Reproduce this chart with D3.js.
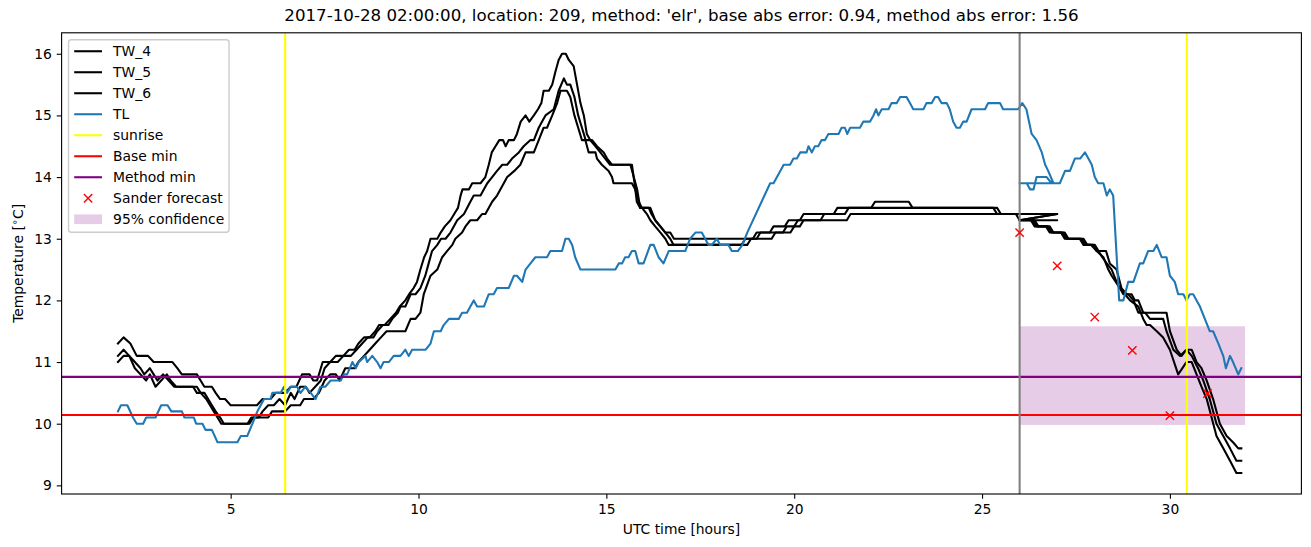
<!DOCTYPE html>
<html>
<head>
<meta charset="utf-8">
<script src="https://cdn.jsdelivr.net/npm/d3@7"></script>
<style>
  html, body { margin: 0; padding: 0; background: #fff; }
  svg { display: block; font-family: "DejaVu Sans", sans-serif; }
</style>
</head>
<body>
<svg id="chart" width="1311" height="547"></svg>
<script>
// ---------------- DATA (hours UTC, temperature °C) ----------------
const titleText = "2017-10-28 02:00:00, location: 209, method: 'elr', base abs error: 0.94, method abs error: 1.56";
const xTicks = [5, 10, 15, 20, 25, 30];
const yTicks = [9, 10, 11, 12, 13, 14, 15, 16];
const seriesNames = ["TW_4", "TW_5", "TW_6", "TL"];

const tw4 = [
  [2.0,11.3],[2.15,11.4],[2.33,11.3],[2.5,11.1],[2.8,11.1],[2.95,11.0],[3.45,11.0],[3.58,10.9],[3.7,10.8],[4.1,10.8],[4.2,10.7],[4.3,10.6],[4.5,10.6],[4.6,10.5],[4.72,10.4],[4.85,10.4],[5.0,10.3],[5.7,10.3],[5.85,10.4],[6.06,10.4],[6.2,10.5],[6.45,10.5],[6.6,10.6],[6.75,10.6],[6.9,10.8],[7.1,10.8],[7.2,10.7],[7.3,10.7],[7.45,11.0],[7.65,11.0],[7.8,11.1],[8.0,11.1],[8.15,11.2],[8.3,11.2],[8.4,11.3],[8.55,11.4],[8.7,11.4],[8.85,11.5],[8.95,11.6],[9.1,11.6],[9.25,11.7],[9.4,11.8],[9.5,11.9],[9.65,12.0],[9.75,12.1],[9.87,12.2],[9.96,12.3],[10.05,12.5],[10.15,12.7],[10.23,12.8],[10.32,13.0],[10.5,13.0],[10.59,13.1],[10.7,13.2],[10.85,13.3],[10.95,13.4],[11.05,13.5],[11.12,13.7],[11.17,13.8],[11.34,13.8],[11.43,13.9],[11.65,13.9],[11.78,14.0],[11.87,14.2],[11.95,14.4],[12.05,14.5],[12.15,14.6],[12.25,14.6],[12.32,14.5],[12.4,14.6],[12.54,14.6],[12.62,14.7],[12.72,14.9],[12.85,15.0],[12.95,14.9],[13.07,15.0],[13.18,15.1],[13.27,15.2],[13.33,15.4],[13.47,15.4],[13.56,15.5],[13.64,15.7],[13.73,15.9],[13.82,16.0],[13.92,16.0],[14.0,15.9],[14.13,15.8],[14.22,15.5],[14.31,15.2],[14.4,15.0],[14.48,14.7],[14.57,14.6],[14.71,14.5],[14.84,14.4],[14.97,14.3],[15.1,14.2],[15.64,14.2],[15.73,14.0],[15.82,13.8],[15.9,13.5],[16.13,13.5],[16.2,13.4],[16.3,13.3],[16.43,13.2],[16.57,13.1],[16.7,13.1],[16.8,13.0],[18.9,13.0],[19.0,13.1],[19.35,13.1],[19.45,13.2],[19.75,13.2],[19.85,13.3],[20.15,13.3],[20.25,13.4],[21.05,13.4],[21.15,13.5],[22.05,13.5],[22.15,13.6],[23.05,13.6],[23.15,13.5],[25.4,13.5],[25.5,13.4],[27.0,13.4],
  [26.0,13.3],[26.35,13.3],[26.45,13.2],[26.75,13.2],[26.85,13.1],[27.15,13.1],[27.25,13.0],[27.65,13.0],[27.75,12.9],[27.95,12.9],[28.05,12.8],[28.3,12.8],[28.4,12.6],[28.58,12.5],[28.71,12.2],[28.85,12.1],[28.98,12.1],[29.07,12.0],[29.16,12.0],[29.29,11.8],[29.91,11.8],[30.0,11.5],[30.18,11.2],[30.31,11.1],[30.44,11.2],[30.58,11.2],[30.71,11.0],[30.84,10.9],[30.98,10.7],[31.15,10.4],[31.33,10.0],[31.51,9.8],[31.68,9.7],[31.82,9.6],[31.9,9.6]
];
const tw5 = [
  [2.0,11.1],[2.15,11.2],[2.3,11.1],[2.45,11.0],[2.6,10.9],[2.7,10.8],[2.85,10.9],[2.95,10.8],[3.05,10.7],[3.2,10.8],[3.35,10.7],[3.5,10.6],[4.1,10.6],[4.2,10.5],[4.35,10.4],[4.45,10.3],[4.55,10.2],[4.65,10.1],[4.75,10.0],[5.5,10.0],[5.6,10.1],[5.75,10.1],[5.85,10.2],[6.0,10.3],[6.15,10.3],[6.3,10.4],[6.45,10.3],[6.6,10.5],[6.7,10.4],[6.85,10.6],[7.0,10.6],[7.1,10.5],[7.25,10.6],[7.4,10.7],[7.5,10.9],[7.65,11.0],[7.85,11.0],[8.0,11.1],[8.2,11.1],[8.35,11.2],[8.5,11.3],[8.65,11.4],[8.8,11.4],[8.9,11.5],[9.05,11.6],[9.2,11.6],[9.3,11.7],[9.45,11.8],[9.52,11.9],[9.65,11.9],[9.79,12.1],[9.92,12.1],[10.05,12.2],[10.18,12.4],[10.27,12.6],[10.36,12.8],[10.5,12.9],[10.6,13.0],[10.72,13.0],[10.85,13.1],[11.03,13.3],[11.21,13.4],[11.38,13.6],[11.47,13.7],[11.65,13.7],[11.83,13.9],[11.96,14.0],[12.09,14.1],[12.23,14.2],[12.36,14.2],[12.49,14.3],[12.67,14.4],[12.8,14.5],[12.98,14.6],[13.07,14.6],[13.2,14.8],[13.29,14.9],[13.38,15.0],[13.6,15.1],[13.73,15.4],[13.87,15.6],[13.95,15.5],[14.04,15.5],[14.15,15.3],[14.25,15.0],[14.35,14.8],[14.45,14.6],[14.62,14.6],[14.75,14.5],[14.93,14.4],[15.02,14.3],[15.15,14.2],[15.68,14.2],[15.75,13.9],[15.81,13.6],[15.9,13.5],[16.17,13.5],[16.3,13.3],[16.44,13.2],[16.57,13.1],[16.7,13.0],[16.79,12.9],[18.6,12.9],[18.7,13.0],[19.0,13.0],[19.1,13.1],[19.7,13.1],[19.8,13.2],[20.0,13.2],[20.1,13.3],[20.7,13.3],[20.8,13.4],[21.35,13.4],[21.45,13.5],[25.3,13.5],[25.4,13.4],[27.0,13.4],
  [26.0,13.3],[26.4,13.3],[26.5,13.2],[26.8,13.2],[26.9,13.1],[27.2,13.1],[27.3,13.0],[27.7,13.0],[27.8,12.9],[28.0,12.9],[28.1,12.8],[28.2,12.7],[28.32,12.6],[28.45,12.5],[28.58,12.3],[28.76,12.1],[28.89,12.1],[29.03,12.0],[29.16,11.8],[29.34,11.8],[29.47,11.7],[29.82,11.7],[29.91,11.5],[30.09,11.2],[30.27,11.1],[30.44,11.2],[30.58,11.1],[30.75,10.9],[30.89,10.7],[31.06,10.4],[31.24,10.0],[31.42,9.8],[31.6,9.6],[31.77,9.4],[31.9,9.4]
];
const tw6 = [
  [2.0,11.0],[2.15,11.1],[2.3,11.1],[2.45,10.9],[2.6,10.8],[2.75,10.7],[2.85,10.8],[3.0,10.6],[3.15,10.7],[3.3,10.8],[3.4,10.7],[3.55,10.6],[4.0,10.6],[4.1,10.5],[4.3,10.5],[4.4,10.4],[4.5,10.3],[4.6,10.2],[4.72,10.1],[4.82,10.0],[5.45,10.0],[5.55,10.1],[6.0,10.1],[6.1,10.2],[6.45,10.2],[6.6,10.3],[6.85,10.3],[6.95,10.4],[7.2,10.4],[7.35,10.5],[7.5,10.7],[7.65,10.8],[7.8,10.8],[7.9,10.7],[8.05,10.9],[8.3,10.9],[8.4,11.0],[8.55,11.1],[8.7,11.2],[8.85,11.3],[9.0,11.4],[9.15,11.5],[9.65,11.5],[9.79,11.7],[9.92,11.7],[10.05,11.8],[10.14,12.1],[10.32,12.4],[10.5,12.5],[10.63,12.7],[10.76,12.8],[10.9,12.9],[10.98,13.0],[11.16,13.1],[11.25,13.2],[11.38,13.3],[11.56,13.3],[11.69,13.4],[11.78,13.4],[11.96,13.6],[12.09,13.7],[12.27,13.9],[12.36,14.0],[12.55,14.1],[12.71,14.2],[12.85,14.4],[13.07,14.4],[13.2,14.6],[13.33,14.8],[13.42,14.8],[13.56,15.0],[13.69,15.2],[13.78,15.4],[13.95,15.4],[14.04,15.3],[14.15,15.0],[14.25,14.8],[14.35,14.6],[14.44,14.6],[14.53,14.4],[14.71,14.4],[14.75,14.3],[14.88,14.2],[15.06,14.1],[15.15,14.0],[15.19,13.9],[15.68,13.9],[15.77,13.8],[15.86,13.6],[15.95,13.5],[16.08,13.4],[16.17,13.3],[16.3,13.2],[16.44,13.1],[16.57,13.0],[16.66,12.9],[18.75,12.9],[18.85,13.0],[19.4,13.0],[19.5,13.1],[19.9,13.1],[20.0,13.2],[20.15,13.2],[20.25,13.3],[21.4,13.3],[21.5,13.4],[25.9,13.4],[26.0,13.3],[27.0,13.3],
  [26.0,13.3],[26.3,13.3],[26.4,13.2],[26.7,13.2],[26.8,13.1],[27.1,13.1],[27.2,13.0],[27.6,13.0],[27.7,12.9],[27.9,12.9],[28.05,12.8],[28.23,12.7],[28.36,12.5],[28.45,12.4],[28.67,12.2],[28.8,12.1],[28.94,12.0],[29.16,11.9],[29.29,11.7],[29.38,11.6],[29.47,11.6],[29.65,11.5],[29.82,11.4],[30.0,11.2],[30.22,10.8],[30.44,11.0],[30.58,11.0],[30.71,10.8],[30.84,10.6],[30.98,10.4],[31.11,10.1],[31.24,9.8],[31.42,9.6],[31.6,9.4],[31.77,9.2],[31.9,9.2]
];
const tl = [
  [2.0,10.2],[2.08,10.3],[2.25,10.3],[2.4,10.1],[2.5,10.0],[2.67,10.0],[2.75,10.1],[3.0,10.1],[3.15,10.3],[3.32,10.3],[3.42,10.2],[3.7,10.2],[3.77,10.1],[4.02,10.1],[4.08,10.0],[4.25,10.0],[4.33,9.9],[4.5,9.9],[4.65,9.7],[5.18,9.7],[5.27,9.8],[5.44,9.8],[5.58,10.0],[5.71,10.2],[5.8,10.3],[5.89,10.4],[6.06,10.4],[6.11,10.5],[6.33,10.5],[6.42,10.6],[6.5,10.5],[6.6,10.6],[6.77,10.6],[6.86,10.5],[6.99,10.6],[7.13,10.5],[7.26,10.4],[7.39,10.6],[7.52,10.6],[7.66,10.7],[7.93,10.7],[8.01,10.8],[8.1,10.8],[8.24,11.0],[8.33,10.9],[8.41,11.0],[8.59,11.1],[8.63,11.0],[8.77,11.1],[8.9,11.0],[8.99,10.9],[9.07,11.0],[9.21,11.0],[9.34,11.1],[9.52,11.1],[9.65,11.2],[9.74,11.1],[9.83,11.2],[10.19,11.2],[10.32,11.3],[10.41,11.5],[10.59,11.5],[10.67,11.6],[10.81,11.7],[11.07,11.7],[11.16,11.8],[11.29,11.8],[11.38,11.9],[11.47,12.0],[11.56,11.9],[11.74,11.9],[11.87,12.1],[12.0,12.1],[12.09,12.2],[12.4,12.2],[12.54,12.4],[12.62,12.4],[12.76,12.3],[12.85,12.5],[12.98,12.6],[13.11,12.7],[13.42,12.7],[13.51,12.8],[13.82,12.8],[13.91,13.0],[14.0,13.0],[14.09,12.9],[14.17,12.7],[14.31,12.5],[15.24,12.5],[15.33,12.6],[15.42,12.6],[15.5,12.7],[15.59,12.7],[15.68,12.8],[15.77,12.8],[15.86,12.6],[15.99,12.6],[16.17,12.9],[16.26,12.9],[16.39,12.7],[16.52,12.6],[16.66,12.8],[17.1,12.8],[17.23,13.0],[17.37,13.1],[17.54,13.1],[17.72,12.9],[17.81,12.9],[17.94,13.0],[18.03,12.9],[18.25,12.9],[18.34,12.8],[18.5,12.8],[18.62,12.9],[18.75,13.1],[19.36,13.9],[19.45,13.9],[19.72,14.2],[19.89,14.2],[19.98,14.3],[20.07,14.3],[20.16,14.4],[20.33,14.4],[20.38,14.5],[20.47,14.4],[20.55,14.5],[20.64,14.5],[20.73,14.6],[20.82,14.6],[20.91,14.7],[21.18,14.7],[21.26,14.8],[21.35,14.8],[21.41,14.7],[21.49,14.8],[21.75,14.8],[21.84,14.9],[22.02,14.9],[22.11,15.0],[22.18,15.1],[22.24,15.0],[22.33,15.1],[22.51,15.1],[22.59,15.2],[22.73,15.2],[22.82,15.3],[22.99,15.3],[23.08,15.2],[23.17,15.1],[23.44,15.1],[23.52,15.2],[23.66,15.2],[23.75,15.3],[23.83,15.3],[23.92,15.2],[24.06,15.2],[24.14,15.1],[24.23,14.9],[24.32,14.8],[24.41,14.8],[24.5,14.9],[24.59,14.9],[24.72,15.1],[25.08,15.1],[25.16,15.2],[25.48,15.2],[25.56,15.1],[25.96,15.1],[26.07,15.2],[26.18,15.1],[26.32,14.7],[26.45,14.6],[26.59,14.4],[26.68,14.2],[26.76,14.1],[26.9,13.9],[27.0,13.9],
  [26.0,13.9],[26.19,13.9],[26.28,13.8],[26.37,13.8],[26.45,14.0],[26.72,14.0],[26.85,13.9],[27.07,13.9],[27.21,14.1],[27.34,14.1],[27.47,14.3],[27.61,14.3],[27.74,14.4],[27.83,14.3],[27.92,14.2],[28.0,14.0],[28.09,13.9],[28.23,13.9],[28.32,13.7],[28.4,13.8],[28.49,13.7],[28.65,12.0],[28.76,12.0],[28.89,12.3],[29.03,12.3],[29.2,12.6],[29.29,12.6],[29.42,12.8],[29.56,12.8],[29.65,12.9],[29.78,12.7],[29.91,12.7],[30.0,12.4],[30.13,12.3],[30.22,12.1],[30.36,12.1],[30.44,12.0],[30.53,12.1],[30.62,12.1],[30.71,12.0],[30.8,11.9],[30.93,11.7],[31.06,11.5],[31.15,11.5],[31.29,11.3],[31.42,11.1],[31.49,10.9],[31.6,11.1],[31.68,11.0],[31.82,10.8],[31.9,10.9]
];
const sunriseHours = [6.45, 30.45];
const forecastStart = 26.0;
const baseMin = 10.14;
const methodMin = 10.76;
const sanderHours = [26, 27, 28, 29, 30, 31];
const sanderTemps = [13.10, 12.56, 11.73, 11.19, 10.13, 10.49];
const confHours = [26, 32];
const confLow = 9.98;
const confHigh = 11.58;
const legendLabels = ["TW_4", "TW_5", "TW_6", "TL", "sunrise", "Base min", "Method min", "Sander forecast", "95% confidence"];

// ---------------- LAYOUT ----------------
const svg = d3.select("#chart");
const W = 1311, H = 547;
const L = 61.6, R = 1301.4, T = 32.8, B = 494;
const pt = 100 / 72;
const fs = 10 * pt;   // 13.89px

const x = d3.scaleLinear().domain([0.5, 33.5]).range([L, R]);
const y = d3.scaleLinear().domain([8.86, 16.34]).range([B, T]);

svg.append("rect").attr("width", W).attr("height", H).attr("fill", "#fff");

const defs = svg.append("defs");
defs.append("clipPath").attr("id", "clip").append("rect")
  .attr("x", L).attr("y", T).attr("width", R - L).attr("height", B - T);

const plot = svg.append("g").attr("clip-path", "url(#clip)");

// confidence band (drawn beneath)
plot.append("rect")
  .attr("x", x(confHours[0])).attr("width", x(confHours[1]) - x(confHours[0]))
  .attr("y", y(confHigh)).attr("height", y(confLow) - y(confHigh))
  .attr("fill", "#800080").attr("fill-opacity", 0.2);

const line = d3.line().x(d => x(d[0])).y(d => y(d[1]));
const lw = 1.5 * pt;
[tw4, tw5, tw6].forEach(s => {
  plot.append("path").datum(s).attr("d", line)
    .attr("fill", "none").attr("stroke", "#000").attr("stroke-width", lw)
    .attr("stroke-linejoin", "round").attr("stroke-linecap", "square");
});
plot.append("path").datum(tl).attr("d", line)
  .attr("fill", "none").attr("stroke", "#1f77b4").attr("stroke-width", lw)
  .attr("stroke-linejoin", "round").attr("stroke-linecap", "square");

// sunrise lines
sunriseHours.forEach(h => {
  plot.append("line").attr("x1", x(h)).attr("x2", x(h)).attr("y1", T).attr("y2", B)
    .attr("stroke", "#ffff00").attr("stroke-width", lw);
});
// base and method min
plot.append("line").attr("x1", L).attr("x2", R).attr("y1", y(baseMin)).attr("y2", y(baseMin))
  .attr("stroke", "#ff0000").attr("stroke-width", lw);
plot.append("line").attr("x1", L).attr("x2", R).attr("y1", y(methodMin)).attr("y2", y(methodMin))
  .attr("stroke", "#800080").attr("stroke-width", lw);
// forecast start
plot.append("line").attr("x1", x(forecastStart)).attr("x2", x(forecastStart)).attr("y1", T).attr("y2", B)
  .attr("stroke", "#808080").attr("stroke-width", lw);

// Sander forecast markers
const ms = 3 * pt;
const xMark = `M${-ms},${-ms}L${ms},${ms}M${-ms},${ms}L${ms},${-ms}`;
sanderHours.forEach((h, i) => {
  plot.append("path").attr("d", xMark)
    .attr("transform", `translate(${x(h)},${y(sanderTemps[i])})`)
    .attr("stroke", "#ff0000").attr("stroke-width", 1 * pt).attr("fill", "none");
});

// ---------------- AXES ----------------
const tickLen = 3.5 * pt;
const xAxis = d3.axisBottom(x).tickValues(xTicks).tickSize(tickLen).tickPadding(3.5 * pt).tickFormat(d3.format("d"));
const yAxis = d3.axisLeft(y).tickValues(yTicks).tickSize(tickLen).tickPadding(3.5 * pt).tickFormat(d3.format("d"));

const gx = svg.append("g").attr("transform", `translate(0,${B})`).call(xAxis);
const gy = svg.append("g").attr("transform", `translate(${L},0)`).call(yAxis);
[gx, gy].forEach(g => {
  g.select(".domain").remove();
  g.selectAll(".tick line").attr("stroke", "#000").attr("stroke-width", 0.8 * pt);
  g.selectAll(".tick text").attr("fill", "#000").style("font-family", "DejaVu Sans")
    .style("font-size", fs + "px");
});

// spines
svg.append("rect").attr("x", L).attr("y", T).attr("width", R - L).attr("height", B - T)
  .attr("fill", "none").attr("stroke", "#000").attr("stroke-width", 0.8 * pt);

// title & labels
svg.append("text").attr("x", (L + R) / 2).attr("y", T - 6 * pt - 3.5)
  .attr("text-anchor", "middle").style("font-size", (12 * pt) + "px").attr("fill", "#000")
  .text(titleText);

svg.append("text").attr("x", (L + R) / 2).attr("y", 534)
  .attr("text-anchor", "middle").style("font-size", fs + "px").attr("fill", "#000")
  .text("UTC time [hours]");

const yl = svg.append("text").attr("transform", `translate(23,${(T + B) / 2}) rotate(-90)`)
  .attr("text-anchor", "middle").style("font-size", fs + "px").attr("fill", "#000");
yl.append("tspan").text("Temperature [");
yl.append("tspan").attr("dy", -5).style("font-size", (fs * 0.7) + "px").text("\u2218");
yl.append("tspan").attr("dy", 5).text("C]");

// ---------------- LEGEND ----------------
const lgX = L + 0.5 * fs, lgY = T + 0.5 * fs;
const rowH = 21.0;
const lgW = 160.5, lgH = 192.5;
const lg = svg.append("g");
lg.append("rect").attr("x", lgX).attr("y", lgY).attr("width", lgW).attr("height", lgH)
  .attr("rx", 2.8).attr("ry", 2.8)
  .attr("fill", "#fff").attr("fill-opacity", 0.8).attr("stroke", "#cccccc").attr("stroke-width", 1 * pt);

const hx0 = lgX + 0.4 * fs + 0.1, hx1 = hx0 + 2 * fs;
const tx = hx1 + 0.8 * fs;
const row0 = lgY + 11.5;
const legendStyles = [
  {type: "line", color: "#000"}, {type: "line", color: "#000"}, {type: "line", color: "#000"},
  {type: "line", color: "#1f77b4"}, {type: "line", color: "#ffff00"}, {type: "line", color: "#ff0000"},
  {type: "line", color: "#800080"}, {type: "marker", color: "#ff0000"}, {type: "patch", color: "#800080"}
];
legendLabels.forEach((lab, i) => {
  const cy = row0 + i * rowH;
  const st = legendStyles[i];
  if (st.type === "line") {
    lg.append("line").attr("x1", hx0).attr("x2", hx1).attr("y1", cy).attr("y2", cy)
      .attr("stroke", st.color).attr("stroke-width", lw);
  } else if (st.type === "marker") {
    lg.append("path").attr("d", xMark).attr("transform", `translate(${(hx0 + hx1) / 2},${cy})`)
      .attr("stroke", st.color).attr("stroke-width", 1 * pt).attr("fill", "none");
  } else {
    lg.append("rect").attr("x", hx0).attr("y", cy - 0.35 * fs).attr("width", hx1 - hx0).attr("height", 0.7 * fs)
      .attr("fill", st.color).attr("fill-opacity", 0.2);
  }
  lg.append("text").attr("x", tx).attr("y", cy + 5).style("font-size", fs + "px").attr("fill", "#000").text(lab);
});
</script>
</body>
</html>
